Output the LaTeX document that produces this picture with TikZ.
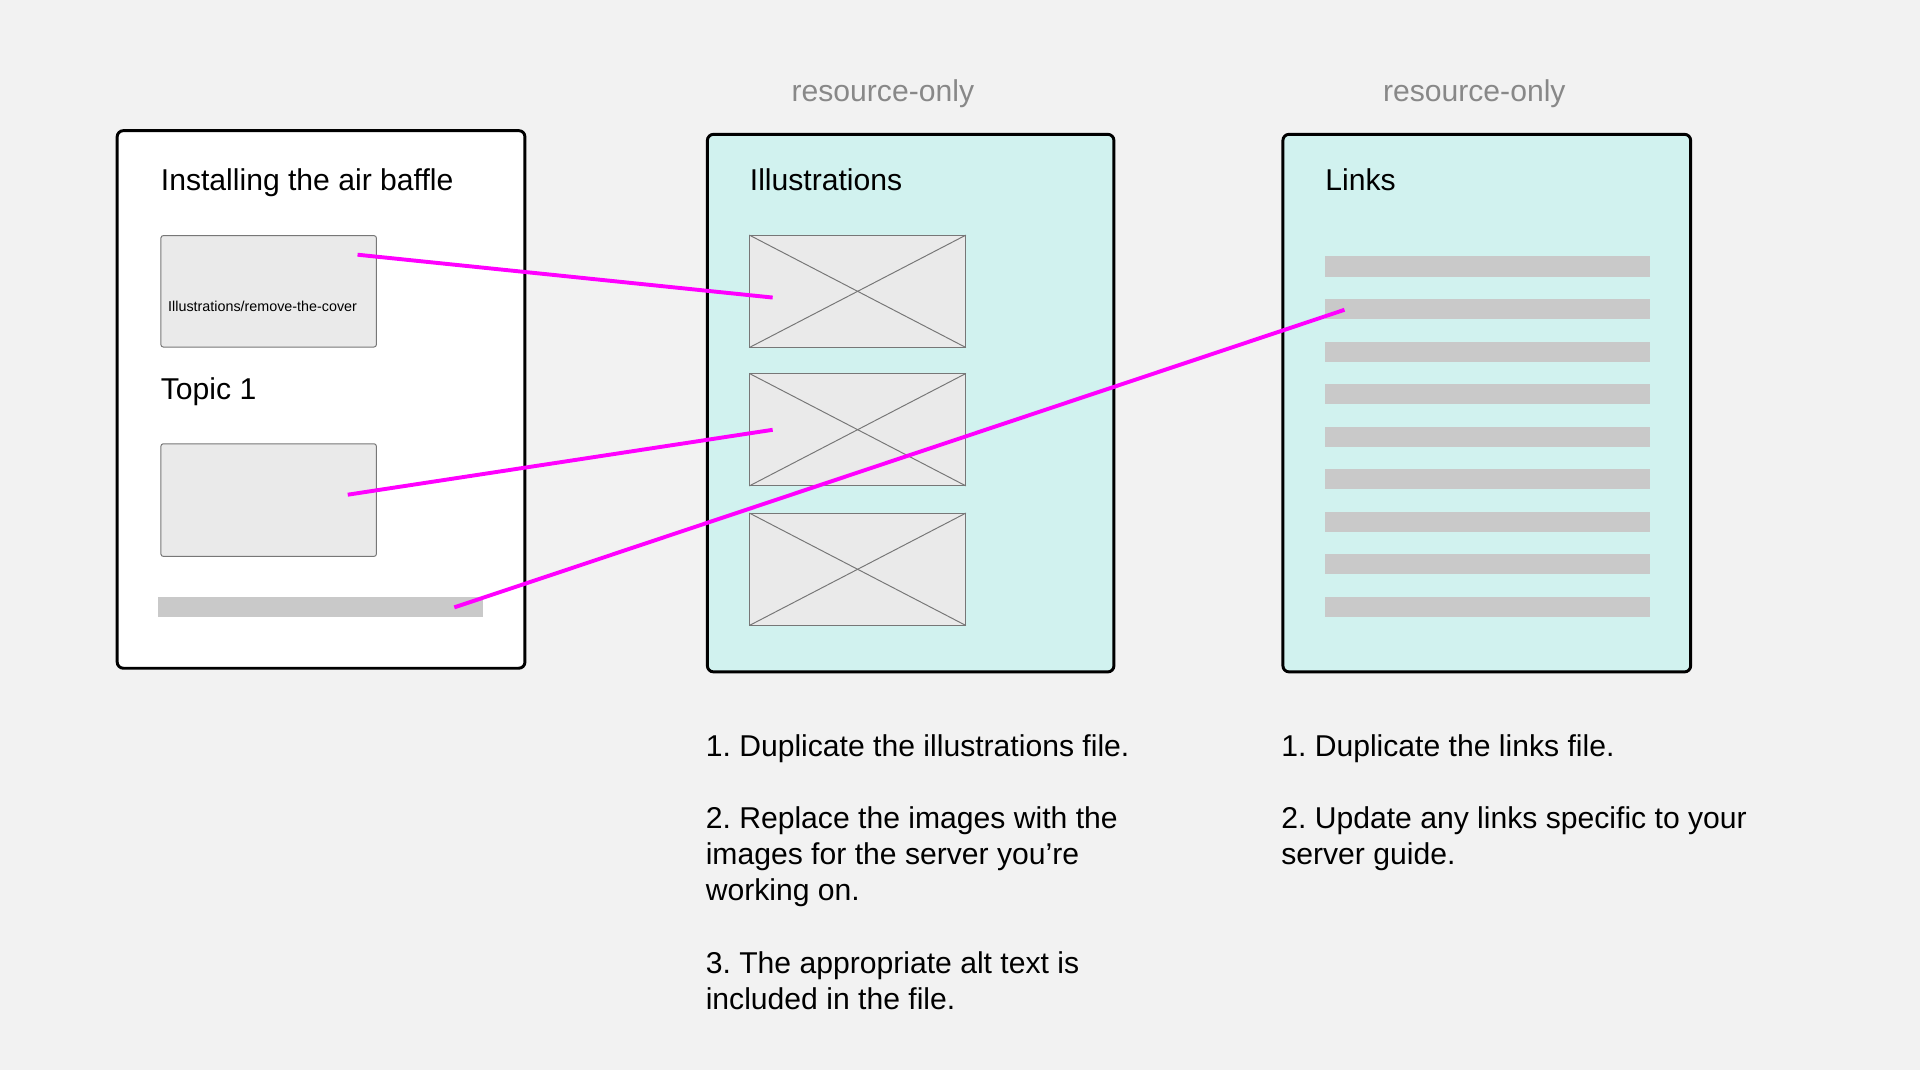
\documentclass[tikz,border=0pt]{standalone}
\usepackage{fontspec}
\setmainfont{Liberation Sans}
\frenchspacing
\definecolor{bgc}{HTML}{F2F2F2}
\definecolor{cyanc}{HTML}{D1F2EF}
\definecolor{boxc}{HTML}{EAEAEA}
\definecolor{barc}{HTML}{C9C9C9}
\definecolor{edgec}{HTML}{777777}
\definecolor{magc}{HTML}{FF00FF}
\definecolor{greytext}{HTML}{888888}
\begin{document}
\begin{tikzpicture}[x=0.5pt,y=-0.5pt,
  card/.style={draw=black, line width=1.2pt, rounded corners=2.5pt, anchor=north west, inner sep=0pt, minimum width=166.5pt, minimum height=219.5pt},
  imgbox/.style={draw=edgec, fill=boxc, line width=0.4pt, rounded corners=1pt, anchor=north west, inner sep=0pt, minimum width=88pt, minimum height=45.5pt},
  barbox/.style={fill=barc, anchor=north west, inner sep=0pt, minimum width=132.5pt, minimum height=8.2pt},
  txt/.style={anchor=base west, inner sep=0pt, font=\fontsize{12.3}{14.6}\selectfont},
  rotxt/.style={anchor=base, inner sep=0pt, text=greytext, font=\fontsize{12.3}{14.6}\selectfont},
  link/.style={draw=magc, line width=1.6pt}
]
\fill[bgc] (0,0) rectangle (1568,874);
\useasboundingbox (0,0) rectangle (1568,874);

% cards
\node[card, fill=white] (c1) at (94.5,105.5) {};
\node[card, fill=cyanc, minimum width=166pt] (c2) at (576.5,108.5) {};
\node[card, fill=cyanc] (c3) at (1046.5,108.5) {};

% labels above
\node[rotxt] (ro1) at (721,82.5) {resource-only};
\node[rotxt] (ro2) at (1204,83) {resource-only};

% card 1 content
\node[txt] (h1) at (131,155.5) {Installing the air baffle};
\node[imgbox] (ba) at (131,192) {};
\node[anchor=base west, inner sep=0pt, font=\fontsize{5.85}{7}\selectfont] (bal) at (137,254) {Illustrations/remove-the-cover};
\node[txt] (t1) at (131,326) {Topic 1};
\node[imgbox, minimum height=46pt] (bb) at (131,362) {};
\node[barbox] (bar0) at (129,487) {};

% card 2 content
\node[txt] (h2) at (612,155.5) {Illustrations};
\foreach \i/\y in {1/192,2/305,3/419}{
  \node[imgbox, rounded corners=0pt] (im\i) at (612,\y) {};
  \draw[edgec, line width=0.4pt] (im\i.north west) -- (im\i.south east);
  \draw[edgec, line width=0.4pt] (im\i.south west) -- (im\i.north east);
}

% card 3 content
\node[txt] (h3) at (1082,155.5) {Links};
\foreach \i in {0,...,8}{
  \node[barbox] (lb\i) at (1082,{209+34.75*\i}) {};
}

% connectors
\coordinate (a1) at (292,208);
\coordinate (a2) at (631,243);
\coordinate (b1) at (284,404);
\coordinate (b2) at (631,351);
\coordinate (d1) at (371,496);
\coordinate (d2) at (1098,253);
\draw[link] (a1) -- (a2);
\draw[link] (b1) -- (b2);
\draw[link] (d1) -- (d2);

% instructions column 2
\node[txt] (p21) at (576,618) {1. Duplicate the illustrations file.};
\node[txt] (p22a) at (576,677) {2. Replace the images with the};
\node[txt] (p22b) at (576,706) {images for the server you’re};
\node[txt] (p22c) at (576,735) {working on.};
\node[txt] (p23a) at (576,795) {3. The appropriate alt text is};
\node[txt] (p23b) at (576,824) {included in the file.};

% instructions column 3
\node[txt] (p31) at (1046,618) {1. Duplicate the links file.};
\node[txt] (p32a) at (1046,677) {2. Update any links specific to your};
\node[txt] (p32b) at (1046,706) {server guide.};
\end{tikzpicture}
\end{document}
